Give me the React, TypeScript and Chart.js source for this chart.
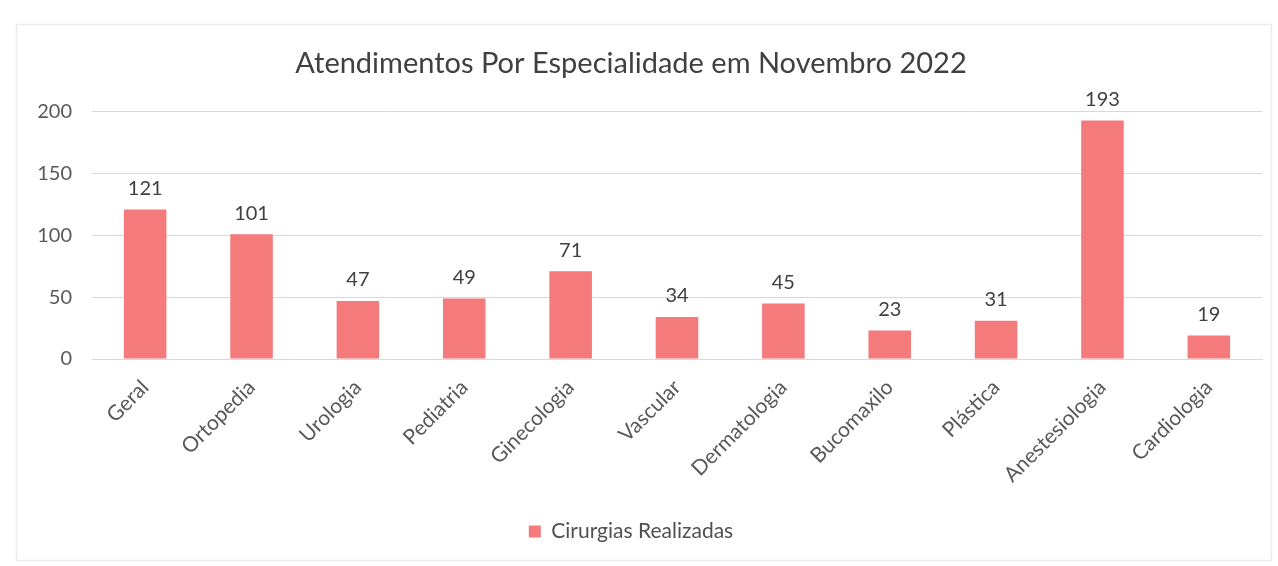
import React, { useEffect, useRef } from "react";
import { Chart, registerables } from "chart.js";

Chart.register(...registerables);

const categories = [
  "Geral",
  "Ortopedia",
  "Urologia",
  "Pediatria",
  "Ginecologia",
  "Vascular",
  "Dermatologia",
  "Bucomaxilo",
  "Plástica",
  "Anestesiologia",
  "Cardiologia",
];
const cirurgias = [121, 101, 47, 49, 71, 34, 45, 23, 31, 193, 19];
const yTicks = [0, 50, 100, 150, 200];

const FONT = "Lato, 'Open Sans', sans-serif";
const BAR = "#F47A7C";

const valueLabels = {
  id: "valueLabels",
  afterDatasetsDraw(chart: any) {
    const ctx = chart.ctx;
    const meta = chart.getDatasetMeta(0);
    ctx.save();
    ctx.font = `20px ${FONT}`;
    ctx.fillStyle = "#404040";
    ctx.textAlign = "center";
    ctx.textBaseline = "bottom";
    meta.data.forEach((bar: any, i: number) => {
      ctx.fillText(String(chart.data.datasets[0].data[i]), bar.x, bar.y - 11);
    });
    ctx.restore();
  },
};

const frame = {
  id: "frame",
  beforeDraw(chart: any) {
    const ctx = chart.ctx;
    ctx.save();
    ctx.strokeStyle = "#EBEBEB";
    ctx.lineWidth = 1.5;
    ctx.strokeRect(16.5, 24.5, 1255, 536);
    ctx.restore();
  },
};

export default function App() {
  const ref = useRef<HTMLCanvasElement | null>(null);
  useEffect(() => {
    if (!ref.current) return;
    const chart = new Chart(ref.current, {
      type: "bar",
      data: {
        labels: categories,
        datasets: [
          {
            label: "Cirurgias Realizadas",
            data: cirurgias,
            backgroundColor: BAR,
            borderWidth: 0,
            categoryPercentage: 1,
            barPercentage: 0.4,
          },
        ],
      },
      options: {
        responsive: false,
        animation: false,
        layout: { padding: { top: 0, right: 16, bottom: 14, left: 0 } },
        plugins: {
          title: {
            display: true,
            text: "Atendimentos Por Especialidade em Novembro 2022",
            color: "#404040",
            font: { family: FONT, size: 29, weight: "normal" },
            padding: { top: 46, bottom: 31 },
          },
          legend: {
            position: "bottom",
            labels: {
              color: "#505050",
              font: { family: FONT, size: 21 },
              boxWidth: 12,
              boxHeight: 12,
              padding: 10,
            },
          },
          tooltip: { enabled: false },
        },
        scales: {
          x: {
            grid: { display: false },
            border: { display: true, color: "#D9D9D9" },
            ticks: {
              color: "#595959",
              font: { family: FONT, size: 21 },
              maxRotation: 45,
              minRotation: 45,
              padding: 8,
            },
            afterFit(scale: any) {
              scale.height = 152;
            },
          },
          y: {
            min: 0,
            max: 200,
            afterBuildTicks(scale: any) {
              scale.ticks = yTicks.map((v) => ({ value: v }));
            },
            grid: { color: "#D9D9D9", drawTicks: false },
            border: { display: false },
            ticks: {
              color: "#595959",
              font: { family: FONT, size: 20 },
              padding: 20,
            },
            afterFit(scale: any) {
              scale.width = 92;
            },
          },
        },
      },
      plugins: [valueLabels, frame],
    });
    return () => chart.destroy();
  }, []);
  return (
    <div style={{ position: "fixed", left: 0, top: 0, width: 1278, height: 566, background: "#fff" }}>
      <canvas ref={ref} width={1278} height={566} style={{ display: "block" }} />
    </div>
  );
}
